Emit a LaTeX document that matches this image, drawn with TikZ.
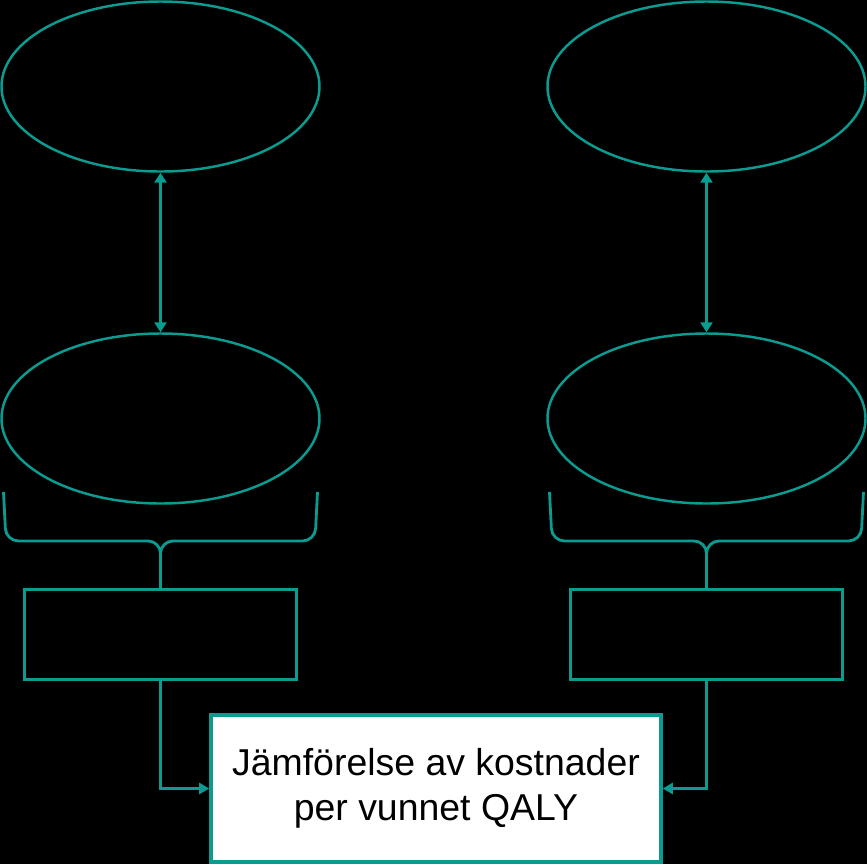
\documentclass[tikz,border=0pt]{standalone}
\usepackage{fontspec}
\setmainfont{Liberation Sans}
\usepackage{xcolor}
\usepackage{tikz}
\usetikzlibrary{shapes,arrows.meta,positioning}
\definecolor{tealLine}{RGB}{10,155,145}
\tikzstyle{arrow} = [draw=tealLine, -{Triangle[length=0.2cm,width=0.22cm]}, line width=1.6pt]
\tikzstyle{dblArrow} = [draw=tealLine, {Triangle[length=0.2cm,width=0.24cm]}-{Triangle[length=0.2cm,width=0.24cm]}, line width=2.1pt]
\tikzstyle{braceLine} = [draw=tealLine, line width=1.6pt, rounded corners=0.25cm]
\tikzstyle{stateBlock} = [draw=tealLine, ellipse, line width=1.4pt, minimum width=6.36cm,
    minimum height=3.4cm, inner sep=0pt]
\tikzstyle{sumBlock} = [draw=tealLine, rectangle, line width=1.6pt, minimum width=5.44cm,
    minimum height=1.8cm]
\tikzstyle{resultBlock} = [draw=tealLine, rectangle, fill=white, line width=2pt, minimum width=9cm,
    minimum height=2.94cm, align=center, font=\fontsize{21.3}{25.3}\selectfont]

\begin{document}
\begin{tikzpicture}[node distance = 6.64cm, auto]
      % background
      \fill[black] (0,0) rectangle (17.34,-17.28);
      \useasboundingbox (0,0) rectangle (17.34,-17.28);

      % Place nodes
      \node [stateBlock] (topL) at (3.21,-1.73) {};
      \node [stateBlock, right of=topL, node distance=10.92cm] (topR) {};
      \node [stateBlock, below of=topL] (lowL) {};
      \node [stateBlock, below of=topR] (lowR) {};

      \node [sumBlock, below of=lowL, node distance=4.32cm] (sumL) {};
      \node [sumBlock, below of=lowR, node distance=4.32cm] (sumR) {};

      \node [resultBlock, right of=sumL, node distance=5.51cm, yshift=-3.08cm] (result)
            {J\"amf\"orelse av kostnader\\per vunnet QALY};

      \path [dblArrow] (topL) -- (lowL);
      \path [dblArrow] (topR) -- (lowR);

      % braces
      \path [braceLine] ([shift={(-3.14,-1.47)}]lowL.center) -- ++(0.05,-0.98)
            -- ([yshift=-2.45cm]lowL.center) -- (sumL.north);
      \path [braceLine] ([shift={(3.14,-1.47)}]lowL.center) -- ++(-0.05,-0.98)
            -- ([yshift=-2.45cm]lowL.center) -- (sumL.north);
      \path [braceLine] ([shift={(-3.14,-1.47)}]lowR.center) -- ++(0.05,-0.98)
            -- ([yshift=-2.45cm]lowR.center) -- (sumR.north);
      \path [braceLine] ([shift={(3.14,-1.47)}]lowR.center) -- ++(-0.05,-0.98)
            -- ([yshift=-2.45cm]lowR.center) -- (sumR.north);

      \path [arrow] (sumL) |- (result);
      \path [arrow] (sumR) |- (result);
\end{tikzpicture}
\end{document}
